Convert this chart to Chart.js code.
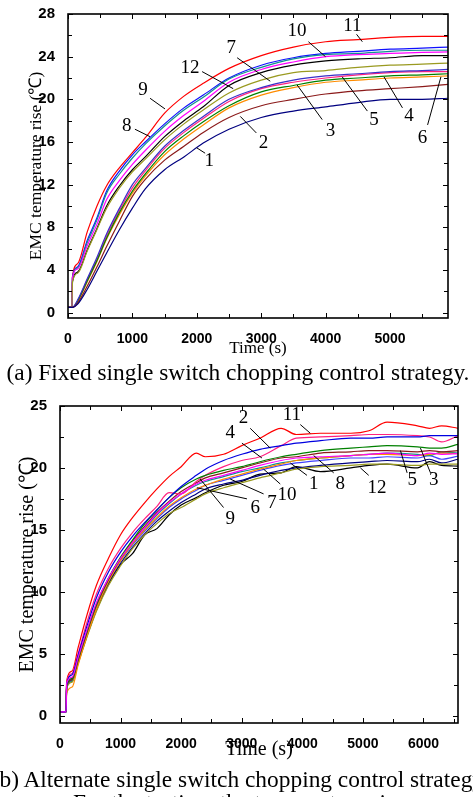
<!DOCTYPE html>
<html>
<head>
<meta charset="utf-8">
<script src="https://cdn.jsdelivr.net/npm/chart.js@4"></script>
<style>
html, body {
    margin: 0;
    padding: 0;
    background: #fff;
    width: 473px;
    height: 797px;
    overflow: hidden;
    position: relative;
}
canvas {
    position: absolute;
    left: 0;
}
#chart-a { top: 0; }
#chart-b { top: 392px; }
.cap {
    position: absolute;
    white-space: nowrap;
    font-family: "Liberation Serif", "Times New Roman", serif;
    font-size: 23.4px;
    line-height: 1;
    color: #000;
}
.mid { transform: translateX(-50%); }
</style>
</head>
<body>
<canvas id="chart-a" width="473" height="362"></canvas>
<div class="cap mid" style="left:238px; top:361px;">(a) Fixed single switch chopping control strategy.</div>
<canvas id="chart-b" width="473" height="372"></canvas>
<div class="cap mid" style="left:240px; top:768px;">(b) Alternate single switch chopping control strategy.</div>
<div class="cap" style="left:73px; top:791px;">For the testing, the temperature rise curves of 12 EMCs</div>
<script>
// ---- (a) fixed single switch chopping ----
const timesA = [0, 60, 70, 150, 300, 450, 600, 800, 1000, 1200, 1500, 1800, 2100, 2500, 3000, 3500, 4000, 4500, 5000, 5500, 5900];

const fixed1  = [0.5, 0.5, 0.5, 0.8, 2.2, 3.9, 5.6, 7.8, 9.8, 11.6, 13.4, 14.6, 15.9, 17.2, 18.3, 18.9, 19.3, 19.7, 20.0, 20.0, 20.1];
const fixed2  = [0.5, 0.5, 0.5, 0.9, 2.5, 4.3, 6.2, 8.6, 10.9, 12.5, 14.3, 15.6, 16.9, 18.3, 19.4, 20.0, 20.5, 20.8, 21.0, 21.2, 21.4];
const fixed3  = [0.5, 0.5, 0.5, 1.2, 3.2, 5.2, 7.4, 9.8, 12.0, 13.5, 15.6, 17.1, 18.4, 20.0, 21.1, 21.8, 22.2, 22.4, 22.6, 22.7, 22.8];
const fixed4  = [0.5, 0.5, 0.5, 1.1, 3.0, 4.9, 7.0, 9.4, 11.4, 13.0, 15.1, 16.6, 17.9, 19.4, 20.7, 21.3, 21.8, 22.0, 22.2, 22.3, 22.4];
const fixed5  = [0.5, 0.5, 0.5, 1.1, 3.1, 5.0, 7.2, 9.6, 11.7, 13.3, 15.4, 16.9, 18.2, 19.8, 21.0, 21.6, 22.0, 22.3, 22.5, 22.6, 22.6];
const fixed6  = [0.5, 0.5, 0.5, 1.0, 2.9, 4.8, 6.9, 9.2, 11.2, 12.8, 14.8, 16.3, 17.6, 19.2, 20.4, 21.1, 21.6, 21.8, 22.0, 22.1, 22.2];
const fixed7  = [0.5, 0.5, 2.9, 3.7, 5.8, 7.8, 9.8, 11.7, 13.2, 14.4, 16.2, 17.7, 19.0, 20.6, 21.8, 22.5, 22.7, 23.0, 23.2, 23.3, 23.4];
const fixed8  = [0.5, 0.5, 3.3, 4.1, 6.3, 8.3, 10.6, 12.4, 13.9, 15.2, 17.0, 18.5, 19.8, 21.6, 22.8, 23.5, 24.0, 24.2, 24.3, 24.4, 24.45];
const fixed9  = [0.5, 0.5, 3.3, 4.2, 6.6, 8.7, 11.2, 13.0, 14.5, 15.8, 17.5, 19.0, 20.2, 21.9, 23.0, 23.8, 24.2, 24.3, 24.5, 24.6, 24.6];
const fixed10 = [0.5, 0.5, 3.3, 4.3, 6.8, 8.9, 11.4, 13.3, 14.8, 16.0, 17.7, 19.2, 20.4, 22.0, 23.2, 23.9, 24.3, 24.5, 24.7, 24.8, 24.9];
const fixed11 = [0.5, 0.5, 3.4, 4.6, 7.6, 10.0, 11.9, 13.6, 15.0, 16.4, 18.7, 20.3, 21.5, 22.9, 24.1, 24.9, 25.4, 25.6, 25.8, 25.9, 25.9];
const fixed12 = [0.5, 0.5, 2.9, 3.8, 5.9, 7.9, 10.0, 11.9, 13.4, 14.6, 16.5, 18.0, 19.3, 21.3, 22.5, 23.2, 23.6, 23.8, 23.9, 24.1, 24.1];

const xTicksA = [0, 1000, 2000, 3000, 4000, 5000];
const yTicksA = [0, 4, 8, 12, 16, 20, 24, 28];

// ---- (b) alternate single switch chopping ----
const timesB = [0, 100, 110, 200, 300, 450, 600, 800, 1000, 1200, 1400, 1600, 1800, 2000, 2250, 2400, 2700, 3000, 3300, 3650, 3900, 4300, 4800, 5100, 5400, 5900, 6100, 6300, 6570];

const alt1  = [0.3, 0.3, 2.6, 3.1, 4.7, 7.0, 9.1, 11.1, 12.7, 14.0, 15.2, 16.3, 17.2, 17.9, 18.7, 19.0, 19.4, 19.8, 20.2, 20.6, 20.8, 20.9, 21.0, 21.1, 21.2, 21.0, 21.2, 21.1, 21.15];
const alt2  = [0.3, 0.3, 2.5, 3.3, 4.9, 7.3, 9.5, 11.6, 13.2, 14.5, 15.6, 16.6, 17.6, 18.5, 19.4, 19.9, 20.6, 21.1, 21.5, 21.8, 22.0, 22.2, 22.4, 22.4, 22.5, 22.5, 22.6, 22.6, 22.6];
const alt3  = [0.3, 0.3, 2.5, 3.0, 4.6, 6.9, 9.0, 11.1, 12.8, 14.2, 15.5, 16.6, 17.6, 18.4, 19.1, 19.4, 19.8, 20.1, 20.5, 20.9, 21.1, 21.4, 21.6, 21.7, 21.8, 21.7, 21.6, 21.6, 21.9];
const alt4  = [0.3, 0.3, 2.7, 3.4, 5.0, 7.6, 9.8, 11.9, 13.5, 14.8, 15.9, 16.9, 18.0, 17.9, 18.9, 19.4, 20.1, 20.6, 20.9, 21.8, 22.4, 22.5, 22.6, 22.7, 22.7, 22.6, 22.5, 22.1, 22.6];
const alt5  = [0.3, 0.3, 2.4, 2.9, 4.5, 6.8, 8.9, 11.0, 12.7, 14.1, 15.3, 16.4, 17.3, 18.1, 18.8, 19.2, 19.6, 20.0, 20.4, 20.8, 20.9, 21.2, 21.3, 21.4, 21.4, 21.3, 21.4, 21.3, 21.4];
const alt6  = [0.3, 0.3, 1.8, 2.3, 4.1, 6.5, 8.6, 10.8, 12.5, 13.9, 15.0, 16.0, 16.9, 17.6, 18.3, 18.6, 19.1, 19.5, 19.9, 20.3, 20.6, 20.8, 21.0, 21.1, 21.1, 21.0, 21.1, 21.2, 21.15];
const alt7  = [0.3, 0.3, 2.2, 2.7, 4.2, 6.4, 8.4, 10.5, 12.1, 13.5, 14.6, 15.5, 16.3, 16.8, 17.5, 17.9, 18.4, 18.8, 19.2, 19.6, 19.9, 20.1, 20.2, 20.3, 20.3, 20.2, 20.3, 20.3, 20.3];
const alt8  = [0.3, 0.3, 2.3, 2.8, 4.4, 6.7, 8.8, 10.9, 12.6, 13.9, 15.1, 16.2, 17.1, 17.9, 18.6, 18.9, 19.3, 19.7, 20.0, 20.4, 20.6, 20.8, 21.0, 21.1, 21.2, 21.1, 21.0, 21.3, 21.2];
const alt9  = [0.3, 0.3, 2.4, 2.9, 4.4, 6.6, 8.6, 10.7, 12.3, 13.6, 14.7, 15.7, 16.5, 17.2, 17.9, 18.3, 18.7, 19.0, 19.4, 19.8, 20.0, 20.2, 20.4, 20.5, 20.6, 20.5, 20.7, 20.4, 20.7];
const alt10 = [0.3, 0.3, 2.5, 3.0, 4.5, 6.8, 8.8, 10.9, 12.5, 13.8, 14.9, 15.9, 16.8, 17.5, 18.2, 18.6, 19.0, 19.4, 19.8, 20.2, 20.4, 20.6, 20.8, 20.8, 20.9, 20.8, 21.0, 20.7, 20.95];
const alt11 = [0.3, 0.3, 2.8, 3.6, 5.5, 8.2, 10.5, 12.7, 14.6, 16.0, 17.2, 18.3, 19.3, 20.1, 21.2, 20.9, 21.1, 21.8, 22.4, 23.2, 22.7, 22.8, 22.8, 23.0, 23.7, 23.4, 23.2, 23.4, 23.2];
const alt12 = [0.3, 0.3, 2.3, 2.8, 4.3, 6.5, 8.5, 10.6, 12.2, 13.1, 14.6, 15.1, 16.2, 17.0, 17.6, 18.0, 18.6, 18.9, 19.5, 19.6, 20.1, 19.7, 20.0, 20.2, 20.3, 20.0, 20.5, 20.2, 20.15];

const xTicksB = [0, 1000, 2000, 3000, 4000, 5000, 6000];
const yTicksB = [0, 5, 10, 15, 20, 25];

// series: which array, which number it carries, its line colour
const seriesA = [
    { name: '1',  values: fixed1,  color: '#000080' },
    { name: '2',  values: fixed2,  color: '#8B1A1A' },
    { name: '3',  values: fixed3,  color: '#3A2FC8' },
    { name: '4',  values: fixed4,  color: '#008000' },
    { name: '5',  values: fixed5,  color: '#FF2080' },
    { name: '6',  values: fixed6,  color: '#FF8C00' },
    { name: '7',  values: fixed7,  color: '#9A9A20' },
    { name: '8',  values: fixed8,  color: '#FF00FF' },
    { name: '9',  values: fixed9,  color: '#109090' },
    { name: '10', values: fixed10, color: '#1010FF' },
    { name: '11', values: fixed11, color: '#FF0000' },
    { name: '12', values: fixed12, color: '#000000' }
];

const seriesB = [
    { name: '1',  values: alt1,  color: '#FF00FF' },
    { name: '2',  values: alt2,  color: '#0000E0' },
    { name: '3',  values: alt3,  color: '#008000' },
    { name: '4',  values: alt4,  color: '#FF2080' },
    { name: '5',  values: alt5,  color: '#8B1A1A' },
    { name: '6',  values: alt6,  color: '#FF8C00' },
    { name: '7',  values: alt7,  color: '#9A9A20' },
    { name: '8',  values: alt8,  color: '#109090' },
    { name: '9',  values: alt9,  color: '#000080' },
    { name: '10', values: alt10, color: '#4040FF' },
    { name: '11', values: alt11, color: '#FF0000' },
    { name: '12', values: alt12, color: '#000000' }
];

// number labels with leader lines, in data units: text at, line from, line to
const labelsA = [
    { text: '11', at: [4414, 26.9], from: [4480, 26.1], to: [4570, 25.4] },
    { text: '10', at: [3557, 26.4], from: [3733, 25.4], to: [3998, 24.0] },
    { text: '7',  at: [2534, 24.8], from: [2626, 23.9], to: [3140, 21.7] },
    { text: '12', at: [1896, 22.9], from: [2082, 22.6], to: [2565, 21.0] },
    { text: '9',  at: [1165, 20.9], from: [1274, 20.1], to: [1506, 19.1] },
    { text: '8',  at: [914, 17.5],  from: [1039, 17.2], to: [1273, 16.5] },
    { text: '1',  at: [2193, 14.2], from: [2129, 14.95], to: [2000, 15.45] },
    { text: '2',  at: [3037, 15.9], from: [2924, 16.85], to: [2675, 18.4] },
    { text: '3',  at: [4076, 17.0], from: [3947, 18.1], to: [3557, 21.35] },
    { text: '5',  at: [4751, 18.1], from: [4648, 18.9], to: [4258, 22.1] },
    { text: '4',  at: [5296, 18.4], from: [5193, 19.2], to: [4907, 22.1] },
    { text: '6',  at: [5505, 16.4], from: [5583, 17.6], to: [5790, 22.1] }
];

const labelsB = [
    { text: '11', at: [3829, 24.3], from: [3967, 23.5], to: [4132, 22.8] },
    { text: '2',  at: [3030, 24.0], from: [3140, 23.2], to: [3471, 21.6] },
    { text: '4',  at: [2810, 22.8], from: [3003, 22.0], to: [3333, 20.8] },
    { text: '1',  at: [4187, 18.7], from: [4077, 19.4], to: [3802, 20.4] },
    { text: '8',  at: [4628, 18.7], from: [4518, 19.6], to: [4187, 21.0] },
    { text: '10', at: [3747, 17.8], from: [3636, 18.7], to: [3361, 19.9] },
    { text: '7',  at: [3499, 17.2], from: [3361, 17.9], to: [2810, 19.1] },
    { text: '6',  at: [3223, 16.8], from: [3086, 17.5], to: [2259, 18.4] },
    { text: '9',  at: [2810, 15.9], from: [2700, 16.8], to: [2314, 19.1] },
    { text: '12', at: [5234, 18.4], from: [5096, 19.4], to: [4959, 20.0] },
    { text: '5',  at: [5813, 19.0], from: [5730, 19.6], to: [5620, 21.4] },
    { text: '3',  at: [6171, 19.0], from: [6116, 19.6], to: [5950, 21.6] }
];

const serif = '"Liberation Serif", "Times New Roman", serif';
const sans = '"Liberation Sans", Arial, sans-serif';

// inward ticks on all four sides plus the box
const frameTicks = {
    id: 'frameTicks',
    afterDatasetsDraw(chart, args, opts) {
        const { ctx, chartArea: area, scales } = chart;
        const x = scales.x;
        const y = scales.y;
        ctx.save();
        ctx.strokeStyle = '#000';
        ctx.lineWidth = 1;
        ctx.beginPath();
        for (let t = 0; t <= x.max + 1e-6; t += opts.xMinor) {
            const px = Math.round(x.getPixelForValue(t)) + 0.5;
            const len = t % opts.xMajor === 0 ? 5 : 4;
            ctx.moveTo(px, area.bottom);
            ctx.lineTo(px, area.bottom - len);
            ctx.moveTo(px, area.top);
            ctx.lineTo(px, area.top + len);
        }
        for (let v = 0; v <= y.max + 1e-6; v += opts.yMinor) {
            const py = Math.round(y.getPixelForValue(v)) + 0.5;
            const len = v % opts.yMajor === 0 ? 5 : 4;
            ctx.moveTo(area.left, py);
            ctx.lineTo(area.left + len, py);
            ctx.moveTo(area.right, py);
            ctx.lineTo(area.right - len, py);
        }
        ctx.stroke();
        ctx.lineWidth = 1.6;
        ctx.strokeRect(area.left, area.top, area.width, area.height);
        ctx.restore();
    }
};

const curveLabels = {
    id: 'curveLabels',
    afterDatasetsDraw(chart, args, opts) {
        const { ctx, scales } = chart;
        const x = scales.x;
        const y = scales.y;
        ctx.save();
        ctx.font = opts.font;
        ctx.fillStyle = '#000';
        ctx.textAlign = 'center';
        ctx.textBaseline = 'middle';
        ctx.strokeStyle = '#000';
        ctx.lineWidth = 1;
        opts.items.forEach(item => {
            ctx.beginPath();
            ctx.moveTo(x.getPixelForValue(item.from[0]), y.getPixelForValue(item.from[1]));
            ctx.lineTo(x.getPixelForValue(item.to[0]), y.getPixelForValue(item.to[1]));
            ctx.stroke();
            ctx.fillText(item.text, x.getPixelForValue(item.at[0]), y.getPixelForValue(item.at[1]));
        });
        ctx.restore();
    }
};

function makeChart(id, times, series, cfg) {
    const datasets =
        series.map(s => ({
            label: s.name,
            data: times.map((t, i) => ({ x: t, y: s.values[i] })),
            borderColor: s.color,
            borderWidth: 1.2,
            pointRadius: 0,
            cubicInterpolationMode: 'monotone',
            fill: false
        }));

    return new Chart(
        document.getElementById(id),
        {
            type: 'line',
            data: { datasets },
            plugins: [frameTicks, curveLabels],
            options: {
                responsive: false,
                animation: false,
                devicePixelRatio: 1,
                layout: {
                    padding: { top: cfg.padTop, right: cfg.padRight, left: 0, bottom: 0 }
                },
                plugins: {
                    legend: { display: false },
                    tooltip: { enabled: false },
                    frameTicks: cfg.ticks,
                    curveLabels: { items: cfg.labels, font: '19px ' + serif }
                },
                scales: {
                    x: {
                        type: 'linear',
                        min: 0,
                        max: cfg.xMax,
                        grid: { display: false },
                        border: { display: false },
                        afterBuildTicks: axis => {
                            axis.ticks = cfg.xTicks.map(v => ({ value: v }));
                        },
                        afterFit: axis => { axis.height = cfg.xHeight; },
                        ticks: {
                            color: '#000',
                            padding: 5,
                            maxRotation: 0,
                            autoSkip: false,
                            callback: v => String(v),
                            font: { family: sans, size: 14, weight: 'bold' }
                        },
                        title: {
                            display: true,
                            text: 'Time (s)',
                            color: '#000',
                            padding: { top: 0, bottom: cfg.xTitlePad },
                            font: { family: serif, size: cfg.titleSize }
                        }
                    },
                    y: {
                        type: 'linear',
                        min: cfg.yMin,
                        max: cfg.yMax,
                        grid: { display: false },
                        border: { display: false },
                        afterBuildTicks: axis => {
                            axis.ticks = cfg.yTicks.map(v => ({ value: v }));
                        },
                        afterFit: axis => { axis.width = cfg.yWidth; },
                        ticks: {
                            color: '#000',
                            padding: 5,
                            autoSkip: false,
                            callback: v => String(v),
                            font: { family: sans, size: 15, weight: 'bold' }
                        },
                        title: {
                            display: true,
                            text: 'EMC temperature rise (℃)',
                            color: '#000',
                            padding: { top: cfg.yTitlePad, bottom: 0 },
                            font: { family: serif, size: cfg.yTitleSize }
                        }
                    }
                }
            }
        }
    );
}

makeChart('chart-a', timesA, seriesA, {
    padTop: 12,
    padRight: 25,
    xMax: 5900,
    yMin: -0.5,
    yMax: 28,
    xTicks: xTicksA,
    yTicks: yTicksA,
    xHeight: 44,
    yWidth: 68,
    xTitlePad: 3,
    yTitlePad: 26,
    titleSize: 17,
    yTitleSize: 17.5,
    ticks: { xMinor: 500, xMajor: 1000, yMinor: 2, yMajor: 4 },
    labels: labelsA
});

makeChart('chart-b', timesB, seriesB, {
    padTop: 11,
    padRight: 15,
    xMax: 6570,
    yMin: -0.6,
    yMax: 25,
    xTicks: xTicksB,
    yTicks: yTicksB,
    xHeight: 41,
    yWidth: 60,
    xTitlePad: 2,
    yTitlePad: 16,
    titleSize: 20,
    yTitleSize: 20,
    ticks: { xMinor: 500, xMajor: 1000, yMinor: 2.5, yMajor: 5 },
    labels: labelsB
});
</script>
</body>
</html>
